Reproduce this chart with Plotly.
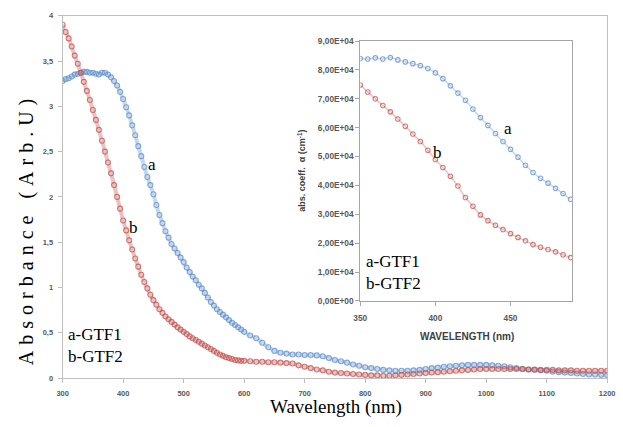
import plotly.graph_objects as go

# ---------------- data ----------------
wl_main = list(range(300, 600, 5)) + list(range(600, 1201, 10))

abs_gtf1 = [3.28, 3.30, 3.31, 3.33, 3.35, 3.36, 3.37, 3.38, 3.38, 3.37,
            3.37, 3.36, 3.35, 3.37, 3.37, 3.35, 3.32, 3.28, 3.23, 3.16,
            3.08, 2.99, 2.90, 2.79, 2.68, 2.56, 2.45, 2.33, 2.22, 2.13,
            2.03, 1.91, 1.80, 1.71, 1.62, 1.55, 1.48, 1.43, 1.38, 1.33,
            1.28, 1.22, 1.17, 1.12, 1.08, 1.03, 0.99, 0.94, 0.89, 0.84,
            0.80, 0.76, 0.73, 0.70, 0.67, 0.64, 0.61, 0.585, 0.56, 0.535,
            0.51, 0.47, 0.44, 0.39, 0.34, 0.30, 0.28, 0.27, 0.26, 0.26,
            0.255, 0.255, 0.25, 0.24, 0.22, 0.20, 0.185, 0.17, 0.15, 0.135,
            0.12, 0.11, 0.10, 0.09, 0.085, 0.08, 0.08, 0.08, 0.085, 0.09,
            0.10, 0.11, 0.115, 0.125, 0.13, 0.135, 0.14, 0.145, 0.145, 0.145,
            0.145, 0.14, 0.135, 0.13, 0.12, 0.11, 0.10, 0.095, 0.09, 0.085,
            0.08, 0.07, 0.065, 0.06, 0.055, 0.05, 0.045, 0.04, 0.038, 0.035,
            0.032]

abs_gtf2 = [3.90, 3.82, 3.75, 3.66, 3.56, 3.47, 3.37, 3.27, 3.17, 3.07,
            2.96, 2.85, 2.74, 2.62, 2.50, 2.38, 2.26, 2.13, 2.00, 1.87,
            1.74, 1.63, 1.52, 1.42, 1.32, 1.23, 1.14, 1.06, 0.99, 0.92,
            0.86, 0.81, 0.76, 0.72, 0.68, 0.65, 0.62, 0.59, 0.56, 0.535,
            0.51, 0.485, 0.46, 0.44, 0.42, 0.40, 0.38, 0.36, 0.34, 0.32,
            0.30, 0.28, 0.26, 0.245, 0.23, 0.22, 0.21, 0.20, 0.195, 0.19,
            0.19, 0.185, 0.18, 0.18, 0.175, 0.175, 0.17, 0.165, 0.16, 0.14,
            0.125, 0.11, 0.095, 0.085, 0.07, 0.06, 0.055, 0.05, 0.045, 0.04,
            0.035, 0.03, 0.03, 0.025, 0.025, 0.03, 0.035, 0.04, 0.045, 0.05,
            0.055, 0.06, 0.065, 0.07, 0.075, 0.08, 0.085, 0.09, 0.095, 0.10,
            0.10, 0.10, 0.10, 0.10, 0.10, 0.10, 0.10, 0.095, 0.095, 0.09,
            0.09, 0.09, 0.085, 0.085, 0.085, 0.08, 0.08, 0.08, 0.08, 0.08,
            0.08]

wl_inset = list(range(350, 491, 5))
alpha_gtf1 = [8.40e4, 8.38e4, 8.42e4, 8.38e4, 8.43e4, 8.35e4, 8.28e4, 8.22e4, 8.15e4, 8.05e4,
              7.90e4, 7.70e4, 7.45e4, 7.20e4, 6.95e4, 6.65e4, 6.35e4, 6.08e4, 5.80e4, 5.52e4,
              5.25e4, 4.98e4, 4.70e4, 4.45e4, 4.25e4, 4.08e4, 3.90e4, 3.72e4, 3.52e4]
alpha_gtf2 = [7.48e4, 7.24e4, 7.00e4, 6.77e4, 6.55e4, 6.30e4, 6.05e4, 5.78e4, 5.52e4, 5.22e4,
              4.90e4, 4.62e4, 4.32e4, 3.98e4, 3.58e4, 3.28e4, 2.98e4, 2.78e4, 2.62e4, 2.47e4,
              2.33e4, 2.20e4, 2.08e4, 1.95e4, 1.86e4, 1.78e4, 1.70e4, 1.60e4, 1.50e4]

main_xticks = [300, 400, 500, 600, 700, 800, 900, 1000, 1100, 1200]
main_yticks = [0, 0.5, 1, 1.5, 2, 2.5, 3, 3.5, 4]
main_yticktext = ["0", "0,5", "1", "1,5", "2", "2,5", "3", "3,5", "4"]
inset_xticks = [350, 400, 450]
inset_yticks = [0, 1e4, 2e4, 3e4, 4e4, 5e4, 6e4, 7e4, 8e4, 9e4]
inset_yticktext = ["0,00E+00", "1,00E+04", "2,00E+04", "3,00E+04", "4,00E+04",
                   "5,00E+04", "6,00E+04", "7,00E+04", "8,00E+04", "9,00E+04"]

# ---------------- styling ----------------
W, H = 623, 427
AXC = "#bfbfbf"
TICKC = "#595959"


def px(x):
    return x / W


def py(y):
    return 1 - y / H


def series(xs, ys, rgb, ax, ay, lw, ms):
    return go.Scatter(
        x=xs, y=ys, mode="lines+markers",
        line=dict(color="rgba(%d,%d,%d,0.35)" % rgb, width=lw, shape="spline"),
        marker=dict(symbol="circle-open", size=ms, color="rgba(%d,%d,%d,0.75)" % rgb,
                    line=dict(width=1.1, color="rgba(%d,%d,%d,0.75)" % rgb)),
        xaxis=ax, yaxis=ay, showlegend=False, hoverinfo="skip")


BLUE = (92, 141, 201)
RED = (192, 80, 77)

fig = go.Figure()
fig.add_trace(series(wl_main, abs_gtf1, BLUE, "x", "y", 4, 5))
fig.add_trace(series(wl_main, abs_gtf2, RED, "x", "y", 4, 5))
fig.add_trace(series(wl_inset, alpha_gtf1, BLUE, "x2", "y2", 1.5, 4.5))
fig.add_trace(series(wl_inset, alpha_gtf2, RED, "x2", "y2", 1.5, 4.5))

tickfont = dict(family="Liberation Sans", size=7.5, color=TICKC, weight="bold")
tickfont2 = dict(family="Liberation Sans", size=8.3, color=TICKC, weight="bold")

fig.update_layout(
    width=W, height=H,
    margin=dict(l=0, r=0, t=0, b=0),
    paper_bgcolor="white", plot_bgcolor="white",
    xaxis=dict(domain=[px(57), px(615)], range=[300, 1200], anchor="y",
               tickvals=main_xticks, ticks="outside", ticklen=4, tickcolor=AXC,
               showline=True, linecolor=AXC, mirror=True, showgrid=False,
               zeroline=False, tickfont=tickfont, ticklabelstandoff=4,
               ticklabeloverflow="allow"),
    yaxis=dict(domain=[py(382), py(11)], range=[0, 4], anchor="x",
               tickvals=main_yticks, ticktext=main_yticktext, ticks="outside",
               ticklen=4, tickcolor=AXC, showline=True, linecolor=AXC, mirror=True,
               showgrid=False, zeroline=False, tickfont=tickfont, ticklabelstandoff=3),
    xaxis2=dict(domain=[px(362), px(579)], range=[350, 491], anchor="y2",
                tickvals=inset_xticks, ticks="outside", ticklen=4, tickcolor="#a6a6a6",
                showline=True, linecolor="#a6a6a6", mirror=True, showgrid=False,
                zeroline=False, tickfont=tickfont2, ticklabelstandoff=5),
    yaxis2=dict(domain=[py(303), py(37)], range=[0, 9e4], anchor="x2",
                tickvals=inset_yticks, ticktext=inset_yticktext, ticks="outside",
                ticklen=4, tickcolor="#a6a6a6", showline=True, linecolor="#a6a6a6",
                mirror=True, showgrid=False, zeroline=False, tickfont=tickfont2),
)

serif = "Liberation Serif"
black17 = dict(family=serif, size=17, color="black")


def note(text, x, y, font, xanchor="center", angle=0, align="center"):
    return dict(text=text, x=px(x), y=py(y), xref="paper", yref="paper",
                showarrow=False, font=font, xanchor=xanchor, yanchor="middle",
                textangle=angle, align=align, borderpad=0)


ann = [
    note("Wavelength (nm)", 337, 412, dict(family=serif, size=19, color="black")),
    note('<span style="letter-spacing:6px">Absorbance (Arb.U)</span>', 20, 230,
         dict(family=serif, size=20, color="black"), angle=-90),
    note("a", 149, 163, black17),
    note("b", 130, 228, black17),
    note("a-GTF1<br>b-GTF2", 61, 349, black17, xanchor="left", align="left"),
    note("a", 513, 126, black17),
    note("b", 441, 151, black17),
    note("a-GTF1<br>b-GTF2", 367, 274, black17, xanchor="left", align="left"),
    note("WAVELENGTH (nm)", 471, 339,
         dict(family="Liberation Sans", size=10, color="#404040", weight="bold")),
    note("abs. coeff.  α (cm<sup>-1</sup>)", 302, 170,
         dict(family="Liberation Sans", size=9, color="#404040", weight="bold"), angle=-90),
]
fig.update_layout(annotations=ann)

fig.write_html("out.html")
